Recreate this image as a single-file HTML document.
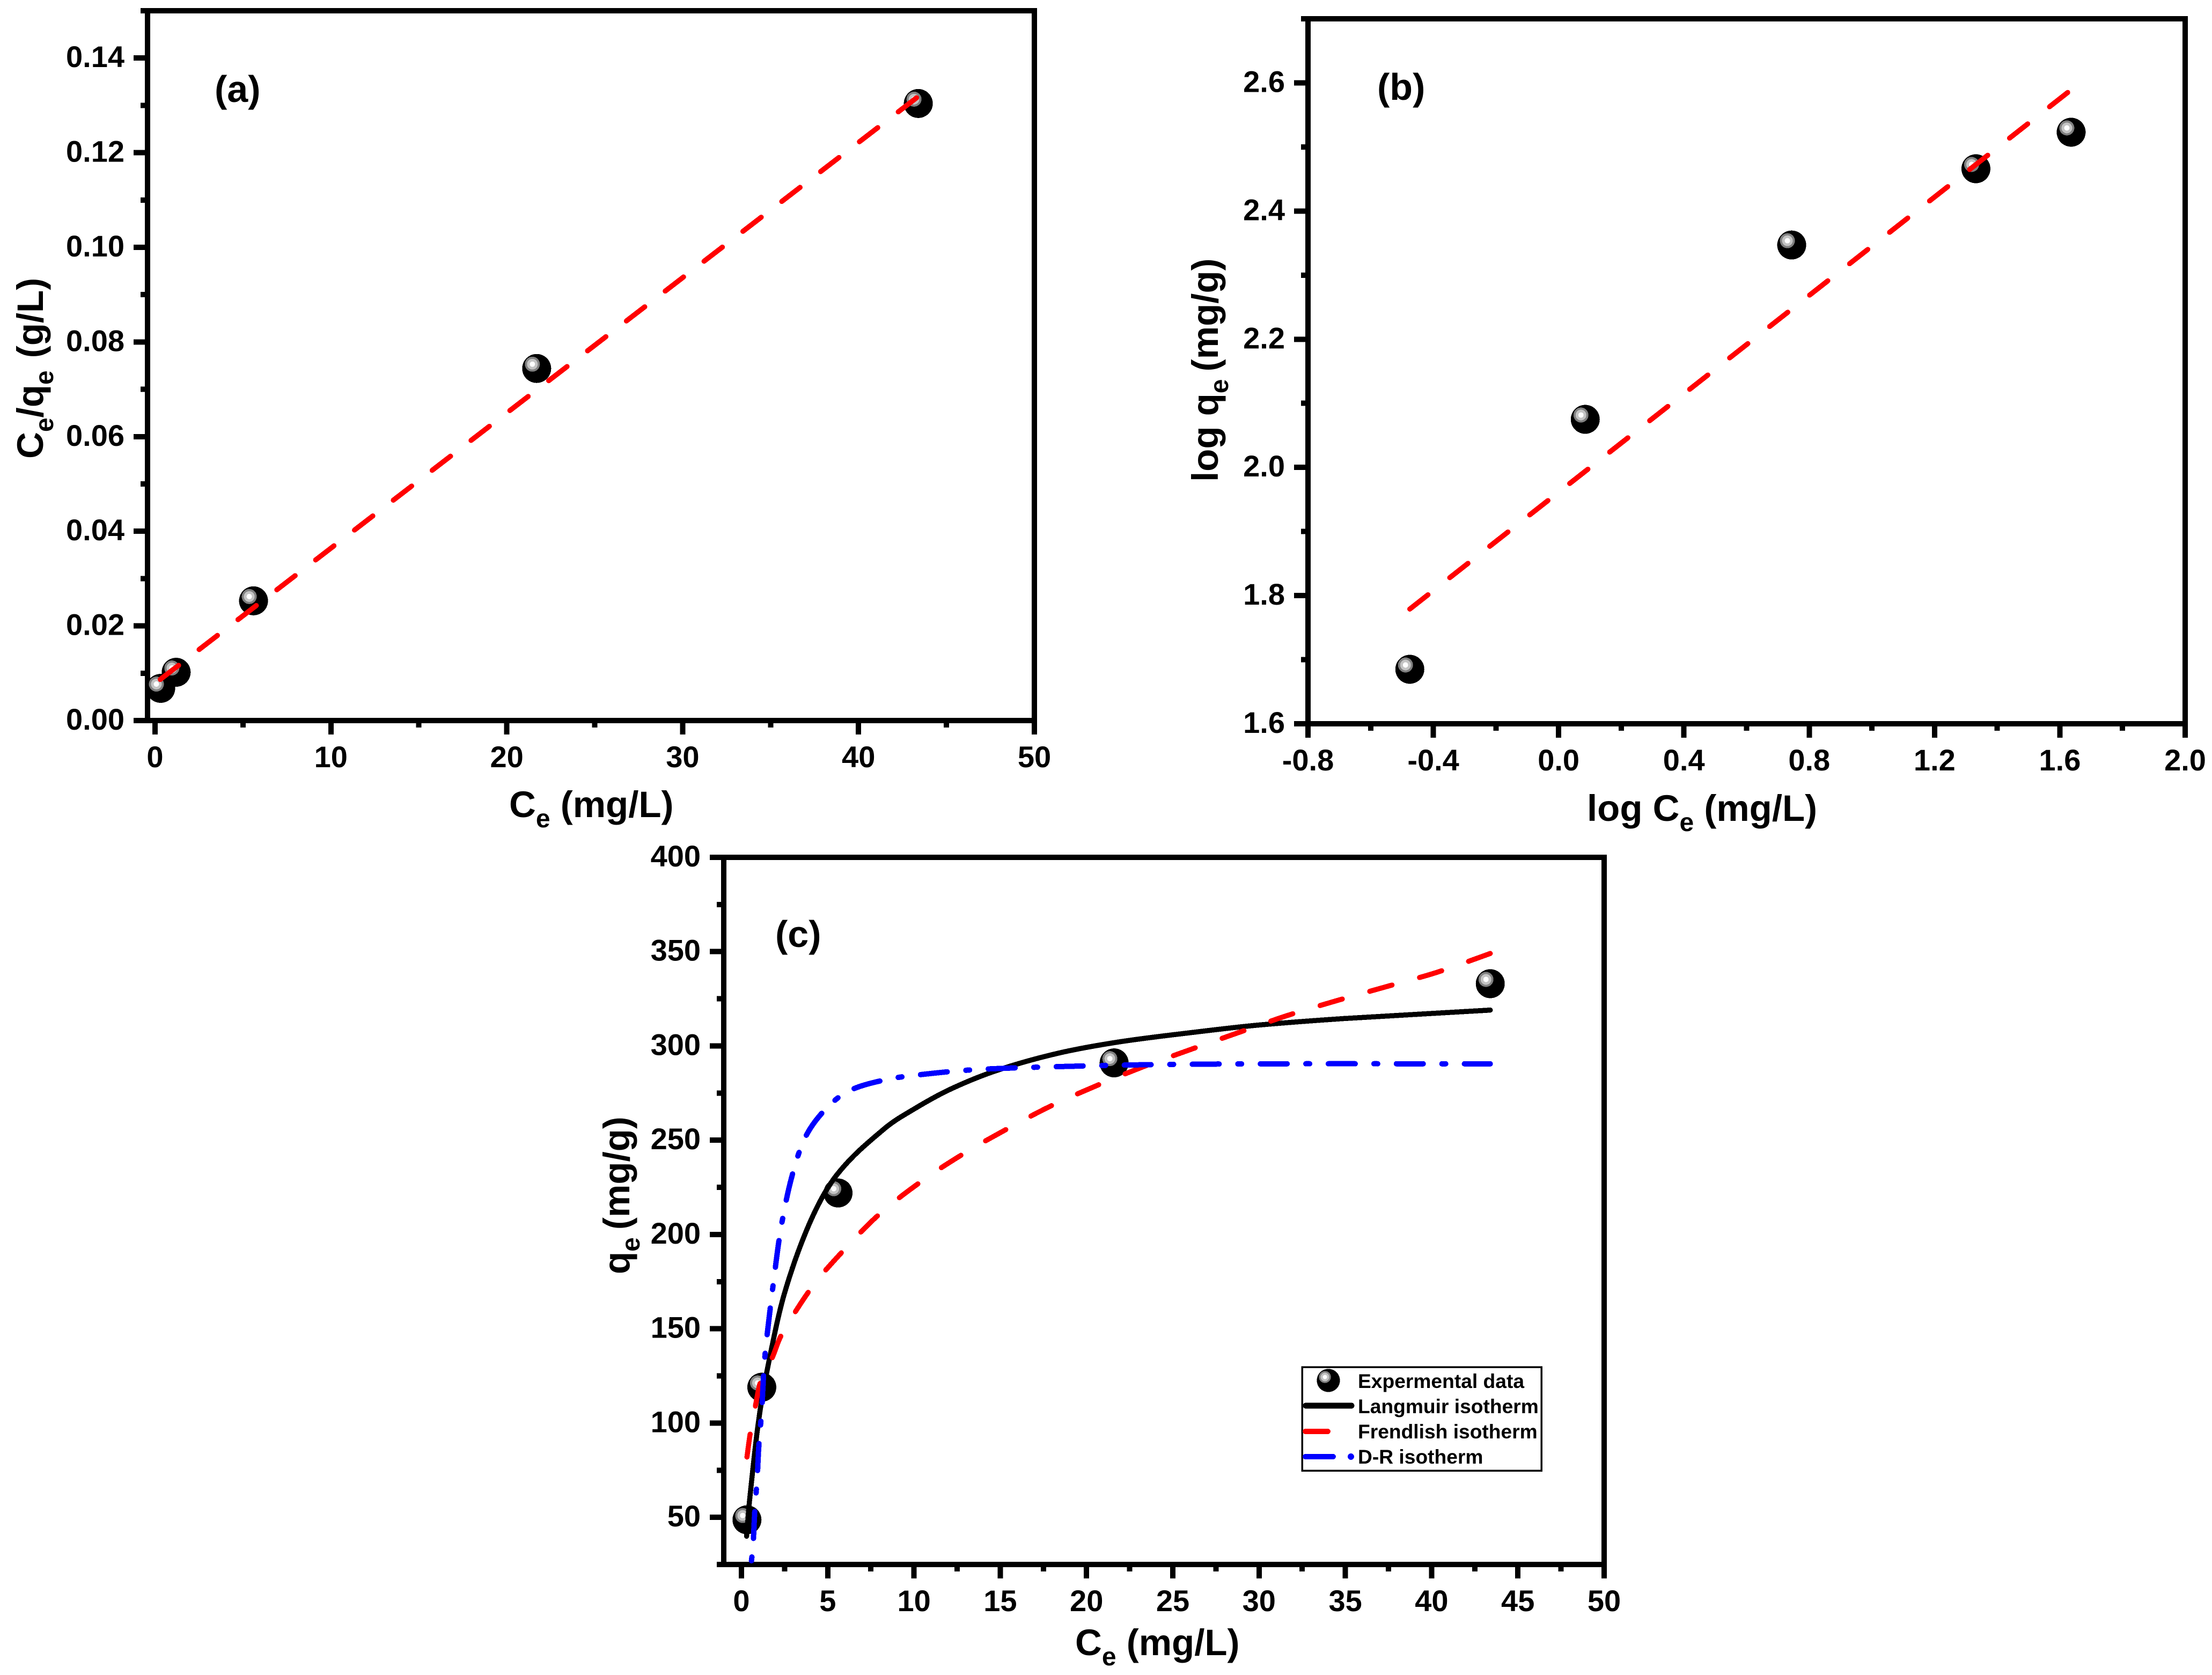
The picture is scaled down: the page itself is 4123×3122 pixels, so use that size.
<!DOCTYPE html>
<html lang="en">
<head>
<meta charset="utf-8">
<title>Adsorption isotherm charts</title>
<style>
html,body{margin:0;padding:0;background:#fff;}
svg{display:block;}
path,circle,line,rect{shape-rendering:crispEdges;}
text{font-family:"Liberation Sans",Arial,sans-serif;font-weight:bold;fill:#000;white-space:pre;}
.tick{font-size:56px;}
.title{font-size:69px;}
.panel{font-size:70px;}
.leg{font-size:37.2px;}
</style>
</head>
<body>
<svg id="figure" xmlns="http://www.w3.org/2000/svg" width="4123" height="3122" viewBox="0 0 4123 3122">
  <rect width="4123" height="3122" fill="#fff"/>

  <g id="chart-a"></g>
  <g id="chart-b"></g>
  <g id="chart-c"></g>

  <text class="panel" x="400" y="190">(a)</text>
  <text class="title" x="949" y="1523">C<tspan dy="19" font-size="48">e</tspan><tspan dy="-19"> (mg/L)</tspan></text>
  <text class="title" transform="translate(80,855) rotate(-90)" x="0" y="0">C<tspan dy="19" font-size="48">e</tspan><tspan dy="-19">/q</tspan><tspan dy="19" font-size="48">e</tspan><tspan dy="-19" dx="4"> (g/L)</tspan></text>

  <text class="panel" x="2567" y="186">(b)</text>
  <text class="title" x="2958" y="1530">log C<tspan dy="19" font-size="48">e</tspan><tspan dy="-19"> (mg/L)</tspan></text>
  <text class="title" transform="translate(2270,898) rotate(-90)" x="0" y="0">log q<tspan dy="19" font-size="48">e</tspan><tspan dy="-19" dx="-5"> (mg/g)</tspan></text>

  <text class="panel" x="1445" y="1765">(c)</text>
  <text class="title" x="2004" y="3085">C<tspan dy="19" font-size="48">e</tspan><tspan dy="-19"> (mg/L)</tspan></text>
  <text class="title" transform="translate(1173,2375) rotate(-90)" x="0" y="0">q<tspan dy="19" font-size="48">e</tspan><tspan dy="-19" dx="-5"> (mg/g)</tspan></text>

  <g id="legend">
    <rect x="2427" y="2548" width="446" height="193" fill="#fff" stroke="#000" stroke-width="3.5"/>
    <g id="legend-marker-slot"></g>
    <text class="leg" x="2531" y="2587">Expermental data</text>
    <line x1="2434" y1="2620" x2="2519" y2="2620" stroke="#000" stroke-width="11" stroke-linecap="round"/>
    <text class="leg" x="2531" y="2634">Langmuir isotherm</text>
    <line x1="2433" y1="2668" x2="2475" y2="2668" stroke="#f00" stroke-width="10" stroke-linecap="round"/>
    <text class="leg" x="2531" y="2681">Frendlish isotherm</text>
    <line x1="2433" y1="2715" x2="2485" y2="2715" stroke="#00f" stroke-width="10" stroke-linecap="round"/>
    <circle cx="2518" cy="2715" r="6" fill="#00f"/>
    <text class="leg" x="2531" y="2728">D-R isotherm</text>
  </g>
</svg>

<script>
// ---------- Chart (a) data ----------
const aXMajor = [0, 10, 20, 30, 40, 50];
const aXLabels = ['0', '10', '20', '30', '40', '50'];
const aXMinor = [5, 15, 25, 35, 45];
const aYMajor = [0, 0.02, 0.04, 0.06, 0.08, 0.10, 0.12, 0.14];
const aYLabels = ['0.00', '0.02', '0.04', '0.06', '0.08', '0.10', '0.12', '0.14'];
const aYMinor = [0.01, 0.03, 0.05, 0.07, 0.09, 0.11, 0.13, 0.15];
const aPointX = [0.32, 1.2, 5.6, 21.7, 43.4];
const aPointY = [0.0068, 0.0102, 0.0253, 0.0744, 0.1304];
const aFitX = [0.3, 43.3];
const aFitY = [0.0087, 0.1316];

// ---------- Chart (b) data ----------
const bXMajor = [-0.8, -0.4, 0, 0.4, 0.8, 1.2, 1.6, 2.0];
const bXLabels = ['-0.8', '-0.4', '0.0', '0.4', '0.8', '1.2', '1.6', '2.0'];
const bXMinor = [-0.6, -0.2, 0.2, 0.6, 1.0, 1.4, 1.8];
const bYMajor = [1.6, 1.8, 2.0, 2.2, 2.4, 2.6];
const bYLabels = ['1.6', '1.8', '2.0', '2.2', '2.4', '2.6'];
const bYMinor = [1.7, 1.9, 2.1, 2.3, 2.5, 2.7];
const bPointX = [-0.475, 0.085, 0.744, 1.332, 1.636];
const bPointY = [1.685, 2.075, 2.347, 2.466, 2.523];
const bFitX = [-0.475, 1.625];
const bFitY = [1.779, 2.585];

// ---------- Chart (c) data ----------
const cXMajor = [0, 5, 10, 15, 20, 25, 30, 35, 40, 45, 50];
const cXLabels = ['0', '5', '10', '15', '20', '25', '30', '35', '40', '45', '50'];
const cXMinor = [2.5, 7.5, 12.5, 17.5, 22.5, 27.5, 32.5, 37.5, 42.5, 47.5];
const cYMajor = [50, 100, 150, 200, 250, 300, 350, 400];
const cYLabels = ['50', '100', '150', '200', '250', '300', '350', '400'];
const cYMinor = [25, 75, 125, 175, 225, 275, 325, 375];
const cPointX = [0.32, 1.18, 5.6, 21.6, 43.4];
const cPointY = [48.7, 119, 222, 291, 333];
const langmuirX = [0.3, 0.46, 0.975, 1.49, 2.47, 4, 5.56, 8.27, 10, 12.1, 14.8, 18.3, 21.8, 26, 29.9, 34.9, 39.6, 43.4];
const langmuirY = [40, 58, 100, 128, 168, 207, 232, 256, 266.5, 277, 287, 296, 302, 307, 311, 314.5, 317, 319];
const freundlichX = [0.32, 0.5, 0.81, 1.08, 1.8, 2.28, 4, 5.56, 7.9, 10.4, 12.9, 15.4, 17.9, 20.6, 23.3, 26, 29.1, 31.6, 34.5, 37.6, 40.3, 43.4];
const freundlichY = [82, 94, 109, 121, 135, 146, 171, 188, 210, 228, 243, 256, 268, 279, 289, 298, 308, 316, 324, 332, 339, 349];
const drX = [0.58, 0.68, 0.77, 0.92, 1.0, 1.18, 1.27, 1.34, 1.44, 1.93, 2.3, 2.9, 3.67, 4.83, 6.2, 8.33, 10.6, 13.7, 18.3, 23.3, 30, 43.4];
const drY = [27, 36, 53, 72, 87, 107, 123, 133, 143, 180, 204, 230, 251, 266, 276, 282, 285, 287.5, 289, 290, 290.5, 290.5];

const SVG_NS = 'http://www.w3.org/2000/svg';

function scale(d0, d1, p0, p1) {
  return function (v) { return p0 + (v - d0) * (p1 - p0) / (d1 - d0); };
}

function make(parent, tag, attrs) {
  const el = document.createElementNS(SVG_NS, tag);
  for (const k in attrs) el.setAttribute(k, attrs[k]);
  parent.appendChild(el);
  return el;
}

function drawAxes(g, box, sx, sy, xMajor, xLabels, xMinor, yMajor, yLabels, yMinor) {
  const frame = make(g, 'rect', {x: box.l, y: box.t, width: box.r - box.l, height: box.b - box.t, fill: 'none', stroke: '#000', 'stroke-width': 10});
  
  
  xMajor.forEach(function (v, i) {
    const t = make(g, 'line', {x1: sx(v), x2: sx(v), y1: box.b, y2: box.b + 26, stroke: '#000', 'stroke-width': 10});
    
    
    const lab = make(g, 'text', {x: sx(v), y: box.b + 87, 'text-anchor': 'middle', class: 'tick'});
    lab.textContent = xLabels[i];
    
    
  });
  xMinor.forEach(function (v) {
    const t = make(g, 'line', {x1: sx(v), x2: sx(v), y1: box.b, y2: box.b + 13, stroke: '#000', 'stroke-width': 10});
    
    
  });
  yMajor.forEach(function (v, i) {
    const t = make(g, 'line', {x1: box.l - 26, x2: box.l, y1: sy(v), y2: sy(v), stroke: '#000', 'stroke-width': 10});
    
    
    const lab = make(g, 'text', {x: box.l - 43, y: sy(v) + 17, 'text-anchor': 'end', class: 'tick'});
    lab.textContent = yLabels[i];
    
    
  });
  yMinor.forEach(function (v) {
    const t = make(g, 'line', {x1: box.l - 13, x2: box.l, y1: sy(v), y2: sy(v), stroke: '#000', 'stroke-width': 10});
    
    
  });
}

function drawMarker(parent, cx, cy, k) {
  const m = make(parent, 'g', {});
  
  
  make(m, 'circle', {cx: cx, cy: cy, r: 27 * k, fill: '#000'});
  make(m, 'circle', {cx: cx - 8 * k, cy: cy - 8 * k, r: 14 * k, fill: '#808080'});
  make(m, 'circle', {cx: cx - 8 * k, cy: cy - 8 * k, r: 10 * k, fill: '#c4c4c4'});
  make(m, 'circle', {cx: cx - 8 * k, cy: cy - 8 * k, r: 5 * k, fill: '#fff'});
}

// Hermite spline through the data, using x-weighted slopes so uneven spacing stays smooth.
function smoothPath(xs, ys, sx, sy) {
  const p = xs.map(function (x, i) { return [sx(x), sy(ys[i])]; });
  const n = p.length;
  const m = p.map(function (pt, i) {
    const a = p[Math.max(0, i - 1)], b = p[Math.min(n - 1, i + 1)];
    return (b[1] - a[1]) / (b[0] - a[0]);
  });
  let d = 'M' + p[0][0].toFixed(1) + ' ' + p[0][1].toFixed(1);
  for (let i = 0; i < n - 1; i++) {
    const h = (p[i + 1][0] - p[i][0]) / 3;
    d += 'C' + (p[i][0] + h).toFixed(1) + ' ' + (p[i][1] + h * m[i]).toFixed(1) + ' ' +
         (p[i + 1][0] - h).toFixed(1) + ' ' + (p[i + 1][1] - h * m[i + 1]).toFixed(1) + ' ' +
         p[i + 1][0].toFixed(1) + ' ' + p[i + 1][1].toFixed(1);
  }
  return d;
}

// Stretch the gaps so the path both starts and ends on a dash, as in the reference.
function fitDash(path, dash, period) {
  const L = path.getTotalLength();
  const cnt = Math.max(1, Math.round((L - dash) / period));
  const gap = (L - dash) / cnt - dash;
  path.setAttribute('stroke-dasharray', dash + ' ' + gap.toFixed(2));
}

function fitDashDot(path, dash, dot, period) {
  const L = path.getTotalLength();
  const lead = dot + (period - dash - dot) / 2 + dash;
  const cnt = Math.max(1, Math.round((L - lead) / period));
  const gap = ((L - lead) / cnt - dash - dot) / 2;
  path.setAttribute('stroke-dasharray', dot + ' ' + gap.toFixed(2) + ' ' + dash + ' ' + gap.toFixed(2));
}

// Chart (a)
const gA = document.getElementById('chart-a');
const boxA = {l: 275, r: 1928, t: 20, b: 1343};
const xA = scale(0, 50, 289, 1928);
const yA = scale(0, 0.15, 1343, 20);
drawAxes(gA, boxA, xA, yA, aXMajor, aXLabels, aXMinor, aYMajor, aYLabels, aYMinor);
aPointX.forEach(function (v, i) { drawMarker(gA, xA(v), yA(aPointY[i]), 1); });
const fitA = make(gA, 'path', {d: smoothPath(aFitX, aFitY, xA, yA), fill: 'none', stroke: '#f00', 'stroke-width': 9.5, 'stroke-linecap': 'round'});


fitDash(fitA, 43, 92);

// Chart (b)
const gB = document.getElementById('chart-b');
const boxB = {l: 2438, r: 4073, t: 35, b: 1349};
const xB = scale(-0.8, 2.0, 2438, 4073);
const yB = scale(1.6, 2.7, 1349, 35);
drawAxes(gB, boxB, xB, yB, bXMajor, bXLabels, bXMinor, bYMajor, bYLabels, bYMinor);
bPointX.forEach(function (v, i) { drawMarker(gB, xB(v), yB(bPointY[i]), 1); });
const fitB = make(gB, 'path', {d: smoothPath(bFitX, bFitY, xB, yB), fill: 'none', stroke: '#f00', 'stroke-width': 9.5, 'stroke-linecap': 'round'});


fitDash(fitB, 43, 92);

// Chart (c)
const gC = document.getElementById('chart-c');
const boxC = {l: 1349, r: 2990, t: 1598, b: 2916};
const xC = scale(0, 50, 1382, 2990);
const yC = scale(25, 400, 2916, 1598);
drawAxes(gC, boxC, xC, yC, cXMajor, cXLabels, cXMinor, cYMajor, cYLabels, cYMinor);
cPointX.forEach(function (v, i) { drawMarker(gC, xC(v), yC(cPointY[i]), 1); });
const curveL = make(gC, 'path', {d: smoothPath(langmuirX, langmuirY, xC, yC), fill: 'none', stroke: '#000', 'stroke-width': 9.5, 'stroke-linecap': 'round'});


const curveF = make(gC, 'path', {d: smoothPath(freundlichX, freundlichY, xC, yC), fill: 'none', stroke: '#f00', 'stroke-width': 9.5, 'stroke-linecap': 'round'});


fitDash(curveF, 43, 96);
const curveD = make(gC, 'path', {d: smoothPath(drX, drY, xC, yC), fill: 'none', stroke: '#00f', 'stroke-width': 10, 'stroke-linecap': 'round'});


fitDashDot(curveD, 50, 7, 123);

// Legend marker
drawMarker(document.getElementById('legend-marker-slot'), 2476, 2573, 0.8);
</script>
</body>
</html>
